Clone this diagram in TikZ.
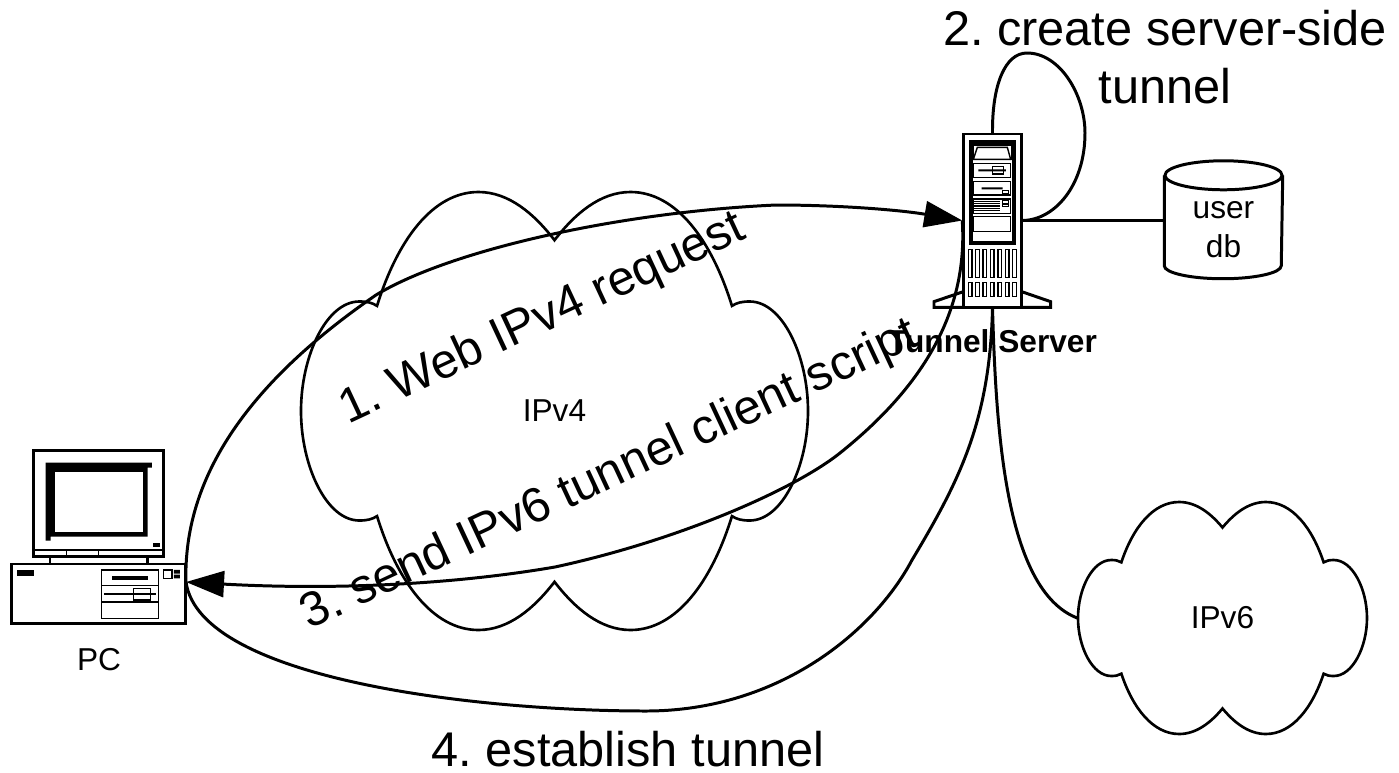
\documentclass[tikz,border=0pt]{standalone}
\usepackage{fontspec}
\setmainfont{Liberation Sans}
\usetikzlibrary{arrows.meta}
\frenchspacing
\newcommand{\cloudoutline}{(0,-78) .. controls (-8,-90) and (-18,-100) .. (-30,-100) .. controls (-48,-100) and (-62,-78) .. (-70,-48) .. controls (-72,-49.5) and (-74,-50) .. (-77,-50) .. controls (-90,-50) and (-100,-25) .. (-100,0) .. controls (-100,25) and (-90,50) .. (-77,50) .. controls (-74,50) and (-72,49.5) .. (-70,48) .. controls (-62,78) and (-48,100) .. (-30,100) .. controls (-18,100) and (-8,90) .. (0,78) .. controls (8,90) and (18,100) .. (30,100) .. controls (48,100) and (62,78) .. (70,48) .. controls (72,49.5) and (74,50) .. (77,50) .. controls (90,50) and (100,25) .. (100,0) .. controls (100,-25) and (90,-50) .. (77,-50) .. controls (74,-50) and (72,-49.5) .. (70,-48) .. controls (62,-78) and (48,-100) .. (30,-100) .. controls (18,-100) and (8,-90) .. (0,-78) -- cycle}
\tikzset{
  bigtext/.style={font=\fontsize{13.85}{16.5}\selectfont, inner sep=0pt, anchor=base},
  smalltext/.style={font=\fontsize{9}{11}\selectfont, inner sep=0pt},
  boldtext/.style={font=\fontsize{9}{11}\selectfont\bfseries, inner sep=0pt, anchor=base},
  connector/.style={line width=0.85pt},
  arrowed/.style={connector, -{Triangle[length=0.38cm, width=0.26cm]}},
  thickpart/.style={line width=0.85pt},
  thinpart/.style={line width=0.4pt},
  cloudline/.style={line width=0.75pt}
}
\begin{document}
\begin{tikzpicture}[x=0.01cm, y=-0.01cm]
\useasboundingbox (0,0) rectangle (1399,772);

\node[inner sep=0pt, minimum width=5.07cm, minimum height=4.38cm, smalltext] (ipvfour) at (554.5,411) {IPv4};
\node[inner sep=0pt, minimum width=2.89cm, minimum height=2.32cm, smalltext] (ipvsix) at (1222.5,618) {IPv6};
\draw[cloudline, shift={(ipvfour.center)}, xscale=2.535, yscale=2.19] \cloudoutline;
\draw[cloudline, shift={(ipvsix.center)}, xscale=1.445, yscale=1.16] \cloudoutline;

\begin{scope}[shift={(0,430)}, scale=0.3333]
\draw[thickpart] (100,62) rectangle (492,380);
\fill (137,98) -- (456,98) -- (456,113) -- (443,113) -- (443,320) -- (152,320) -- (152,332) -- (137,332) -- cycle;
\fill[white] (165,126) rectangle (430,306);
\fill (460,340) rectangle (480,351);
\draw[thinpart] (100,360) -- (492,360) (200,360) -- (200,375) (296,360) -- (296,375);
\draw[thickpart] (150,380) -- (150,402) (442,380) -- (442,402);
\draw[thickpart] (35,402) rectangle (557,582);
\fill (52,420) rectangle (103,437);
\draw[thinpart] (305,420) rectangle (475,566) (305,466) -- (475,466) (305,516) -- (475,516);
\fill (336,438) rectangle (444,450);
\draw[thinpart] (312,492) -- (468,492) (400,476) rectangle (452,510) (490,420) rectangle (516,445);
\fill (522,420) rectangle (540,431) (522,434) rectangle (540,445);
\end{scope}

\begin{scope}[shift={(900,100)}, scale=0.3333]
\draw[thickpart, fill=white] (190,575) -- (102,605) -- (102,622) -- (452,622) -- (452,605) -- (365,575);
\draw[thickpart, fill=white] (190,102) rectangle (365,622);
\draw[line width=1.1pt] (212,125) rectangle (343,428);
\draw[thinpart] (220,135) rectangle (335,178);
\draw[thinpart] (232,142) -- (322,142) -- (332,178) -- (220,178) -- cycle;
\draw[thinpart] (220,190) rectangle (332,232) (220,244) rectangle (332,285) (220,297) rectangle (332,340) (220,350) rectangle (332,395);
\fill (235,208) rectangle (318,214) (245,262) rectangle (308,268);
\draw[thinpart] (278,200) rectangle (310,222) (307,272) rectangle (325,282) (307,302) rectangle (325,310) (307,314) rectangle (325,320);
\foreach \liney in {304,311,318,325,332} {
  \draw[thinpart] (222,\liney) -- (300,\liney);
}
\foreach \slotx in {205,227,249,271,294,316,338} {
  \draw[thinpart] (\slotx,448) rectangle +(11,85);
  \draw[thinpart] (\slotx,547) rectangle +(11,43);
}
\end{scope}

\node[inner sep=0pt, minimum width=0.59cm, minimum height=1.73cm] (server) at (992.5,220.5) {};
\node[inner sep=0pt, minimum width=1.74cm, minimum height=0.6cm] (pc) at (99,594) {};
\coordinate (pcport) at (186,582);
\node[inner sep=0pt, minimum width=1.17cm, minimum height=0.89cm] (userdb) at (1223.5,220.5) {};
\node[smalltext, anchor=base] (userlabel) at (1223.5,218) {user};
\node[smalltext, anchor=base] (dblabel) at (1223.5,257) {db};
\draw[thickpart] (userdb.north) ellipse [x radius=58.5, y radius=14.5];
\draw[thickpart] (userdb.north west) -- (userdb.south west) arc [start angle=180, end angle=0, x radius=58.5, y radius=13] -- (userdb.north east);

\draw[arrowed] (pcport) .. controls (183,480) and (245,385) .. (376,295) .. controls (450,250) and (620,212) .. (776,205) .. controls (840,205) and (900,210) .. (server.west);
\draw[arrowed] (server.west) .. controls (968,310) and (925,385) .. (840,453) .. controls (795,489) and (680,540) .. (555,567) .. controls (450,585) and (330,590) .. (pcport);
\draw[connector] (server.south) .. controls (990,420) and (960,480) .. (912,560) .. controls (875,630) and (780,711) .. (646,711) .. controls (480,711) and (200,680) .. (pcport);
\draw[connector] (server.south) .. controls (996,430) and (1005,590) .. (ipvsix.west);
\draw[connector] (server.north) .. controls (992,85) and (1005,53) .. (1027,53) .. controls (1060,53) and (1085,95) .. (1085,133) .. controls (1085,185) and (1055,220) .. (server.east);
\draw[connector] (server.east) -- (userdb.west);

\node[bigtext] (stepone) at (548,331) [rotate=25] {1. Web IPv4 request};
\node[bigtext] (stepthree) at (615,487) [rotate=25] {3. send IPv6 tunnel client script};
\node[bigtext] (steptwo) at (1165,45) {2. create server-side};
\node[bigtext] (steptwob) at (1165,103) {tunnel};
\node[bigtext] (stepfour) at (628,766) {4. establish tunnel};
\node[boldtext] (serverlabel) at (992.5,352) {Tunnel Server};
\node[smalltext, anchor=base] (pclabel) at (99,670) {PC};
\end{tikzpicture}
\end{document}
